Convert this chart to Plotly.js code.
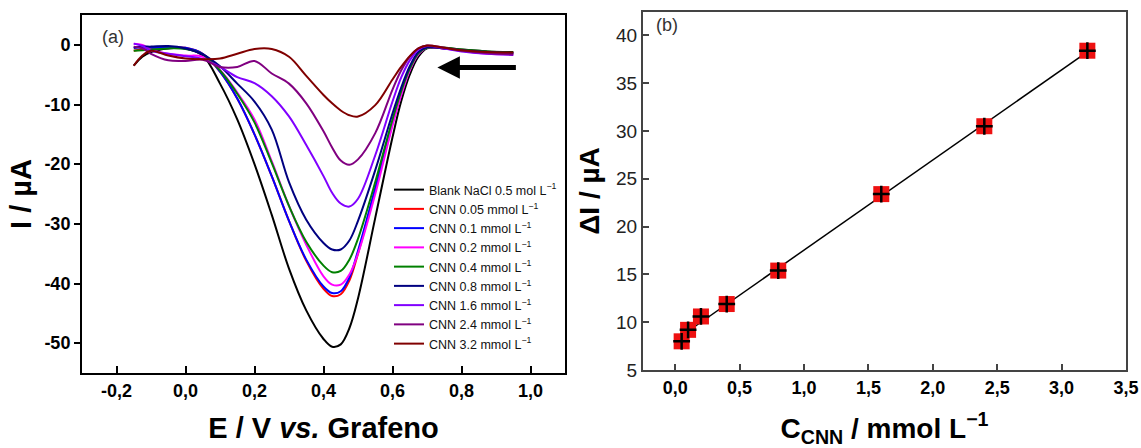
<!DOCTYPE html>
<html>
<head>
<meta charset="utf-8">
<script src="https://cdn.plot.ly/plotly-3.0.1.min.js"></script>
<style>html,body{margin:0;padding:0;background:#fff;}#chart{width:1141px;height:448px;}</style>
</head>
<body>
<div id="chart"></div>
<script>
// ---------- Panel (a): voltammograms ----------
const E = [-0.15,-0.125,-0.1,-0.05,0,0.05,0.1,0.15,0.2,0.25,0.3,0.35,0.4,0.425,0.45,0.475,0.5,0.55,0.6,0.625,0.65,0.675,0.7,0.75,0.8,0.875,0.95];

const iBlank = [-3.5,-2.0,-1.2,-0.6,-0.6,-1.8,-6.5,-12.5,-20,-28.5,-37.5,-44.5,-49.3,-50.6,-50.2,-47.5,-42.5,-29,-15.5,-9.5,-5,-2,-0.6,-0.5,-0.8,-1.1,-1.2];
const iC005 = [-1.0,-0.7,-0.5,-0.4,-0.5,-1.5,-4.5,-9,-15,-22,-29.5,-36.2,-40.9,-42.1,-41.8,-39.5,-35,-24.3,-13.2,-8.1,-4.1,-1.5,-0.5,-0.6,-0.9,-1.2,-1.4];
const iC01  = [-0.5,-0.4,-0.5,-0.4,-0.5,-1.5,-4.5,-9,-15,-22,-29.5,-36,-40.5,-41.6,-41.3,-39,-34.5,-24,-13,-8,-4,-1.5,-0.5,-0.6,-0.9,-1.2,-1.4];
const iC02  = [0.2,0,-0.8,-1.5,-1.8,-2.0,-4.2,-8,-12.5,-19.5,-27,-33.5,-38.8,-40.2,-40.2,-38.5,-35,-25,-13.5,-8.5,-4.3,-1.6,-0.5,-0.6,-1.0,-1.5,-1.6];
const iC04  = [-1.0,-0.9,-0.8,-0.6,-0.7,-1.6,-4.3,-8.2,-13,-19.8,-27,-33,-37,-38.1,-37.9,-36,-32.5,-23,-12.5,-7.8,-4,-1.4,-0.5,-0.5,-0.8,-1.1,-1.3];
const iC08  = [-0.5,-0.3,-0.3,-0.2,-0.6,-1.6,-3.6,-6.5,-9.5,-14.2,-23,-29.3,-33.2,-34.3,-34.3,-32.8,-29.5,-21,-11.5,-7.2,-3.6,-1.2,-0.4,-0.6,-0.9,-1.2,-1.4];
const iC16  = [0.2,-0.2,-1.0,-1.5,-1.9,-2.4,-3.7,-5.4,-6.4,-8.6,-12,-16.8,-22,-24.8,-26.6,-27.1,-25.8,-18.5,-9.5,-5.5,-2.6,-0.8,-0.2,-0.6,-1.1,-1.5,-1.7];
const iC24  = [-0.3,-0.6,-1.5,-2.6,-2.7,-2.5,-3.7,-3.7,-2.7,-4.8,-6.5,-9.8,-14.5,-17.2,-19.4,-20.1,-19.2,-14.8,-7.5,-4.3,-2,-0.6,-0.1,-0.5,-1.0,-1.4,-1.6];
const iC32  = [-3.5,-1.8,-1.0,-1.8,-2.3,-2.4,-2.3,-1.5,-0.7,-0.7,-2.0,-5.2,-8.4,-9.8,-11,-11.8,-12.0,-10.1,-5.8,-3.7,-1.9,-0.6,-0.1,-0.5,-0.9,-1.2,-1.3];

const curveNames = [
  "Blank NaCl 0.5 mol L<sup>−1</sup>",
  "CNN 0.05 mmol L<sup>−1</sup>",
  "CNN 0.1 mmol L<sup>−1</sup>",
  "CNN 0.2 mmol L<sup>−1</sup>",
  "CNN 0.4 mmol L<sup>−1</sup>",
  "CNN 0.8 mmol L<sup>−1</sup>",
  "CNN 1.6 mmol L<sup>−1</sup>",
  "CNN 2.4 mmol L<sup>−1</sup>",
  "CNN 3.2 mmol L<sup>−1</sup>"
];
const curveColors = ["#000000","#ff0000","#0000ff","#ff00ff","#008000","#000080","#8000ff","#800080","#800000"];
const curveData = [iBlank,iC005,iC01,iC02,iC04,iC08,iC16,iC24,iC32];

const xTickValsA = [-0.2,0,0.2,0.4,0.6,0.8,1.0];
const xTickTextA = ["-0,2","0,0","0,2","0,4","0,6","0,8","1,0"];
const yTickValsA = [0,-10,-20,-30,-40,-50];
const yTickTextA = ["0","-10","-20","-30","-40","-50"];

// ---------- Panel (b): calibration ----------
const conc = [0.05,0.1,0.2,0.4,0.8,1.6,2.4,3.2];
const deltaI = [8.0,9.2,10.6,11.9,15.4,23.4,30.5,38.4];
const xTickValsB = [0,0.5,1.0,1.5,2.0,2.5,3.0,3.5];
const xTickTextB = ["0,0","0,5","1,0","1,5","2,0","2,5","3,0","3,5"];
const yTickValsB = [5,10,15,20,25,30,35,40];

// least-squares fit of the calibration points
function linfit(x,y){
  const n=x.length; let sx=0,sy=0,sxx=0,sxy=0;
  for(let i=0;i<n;i++){sx+=x[i];sy+=y[i];sxx+=x[i]*x[i];sxy+=x[i]*y[i];}
  const m=(n*sxy-sx*sy)/(n*sxx-sx*sx); const b=(sy-m*sx)/n; return [m,b];
}
const [slope, icpt] = linfit(conc, deltaI);
const fitX = [conc[0], conc[conc.length-1]];
const fitY = fitX.map(v => slope*v + icpt);

const FONT = "Arial, 'Liberation Sans', sans-serif";

const traces = [];
curveData.forEach((arr,k)=>{
  traces.push({
    x:E, y:arr, type:"scatter", mode:"lines", name:curveNames[k],
    line:{color:curveColors[k], width:2, shape:"spline", smoothing:1},
    xaxis:"x", yaxis:"y", showlegend:true
  });
});
traces.push({x:fitX, y:fitY, type:"scatter", mode:"lines", line:{color:"#000",width:1.5},
  xaxis:"x2", yaxis:"y2", showlegend:false});
traces.push({x:conc, y:deltaI, type:"scatter", mode:"markers",
  marker:{symbol:"square", size:16, color:"#ee1111", line:{width:0}},
  xaxis:"x2", yaxis:"y2", showlegend:false});
traces.push({x:conc, y:deltaI, type:"scatter", mode:"markers",
  marker:{symbol:"cross-thin", size:12, color:"#000", line:{width:2.5, color:"#000"}},
  xaxis:"x2", yaxis:"y2", showlegend:false});

const W=1141, H=448;
const px = v => v/W, py = v => 1 - v/H;

const layout = {
  width:W, height:H,
  margin:{l:0,r:0,t:0,b:0},
  paper_bgcolor:"#fff", plot_bgcolor:"#fff",
  font:{family:FONT, color:"#000"},
  showlegend:true,
  legend:{x:px(389), y:py(175), xanchor:"left", yanchor:"top",
    font:{family:FONT, size:12.5, color:"#111"}, bgcolor:"rgba(0,0,0,0)", tracegroupgap:0},
  xaxis:{domain:[px(82),px(565)], range:[-0.3,1.1], anchor:"y",
    tickvals:xTickValsA, ticktext:xTickTextA, ticks:"inside", ticklen:7, tickwidth:2, tickcolor:"#000",
    showline:true, linecolor:"#000", linewidth:2, mirror:true, showgrid:false, zeroline:false,
    tickfont:{family:FONT, size:18, weight:"bold"},
    title:{text:"E / V <i>vs.</i> Grafeno", font:{family:FONT, size:29, weight:"bold"}, standoff:18}},
  yaxis:{domain:[py(373),py(15)], range:[-55,5], anchor:"x",
    tickvals:yTickValsA, ticktext:yTickTextA, ticks:"outside", ticklen:6, tickwidth:2, tickcolor:"#000",
    showline:true, linecolor:"#000", linewidth:2, mirror:true, showgrid:false, zeroline:false,
    tickfont:{family:FONT, size:18, weight:"bold"},
    title:{text:"I / µA", font:{family:FONT, size:29, weight:"bold"}, standoff:4}},
  xaxis2:{domain:[px(643),px(1126)], range:[-0.25,3.5], anchor:"y2",
    tickvals:xTickValsB, ticktext:xTickTextB, ticks:"inside", ticklen:6, tickwidth:1.5, tickcolor:"#444",
    showline:true, linecolor:"#444", linewidth:2, mirror:true, showgrid:false, zeroline:false,
    tickfont:{family:FONT, size:18, weight:"bold"},
    title:{text:"C<sub>CNN</sub> / mmol L<sup>−1</sup>", font:{family:FONT, size:28, weight:"bold"}, standoff:22}},
  yaxis2:{domain:[py(370),py(12)], range:[5,42.45], anchor:"x2",
    tickvals:yTickValsB, ticks:"inside", ticklen:6, tickwidth:1.5, tickcolor:"#444",
    showline:true, linecolor:"#444", linewidth:2, mirror:true, showgrid:false, zeroline:false,
    tickfont:{family:FONT, size:19, color:"#222"},
    title:{text:"ΔI / µA", font:{family:FONT, size:28, weight:"bold"}, standoff:8}},
  annotations:[
    {xref:"paper", yref:"paper", x:px(100), y:py(37), xanchor:"left", yanchor:"middle",
     text:"(a)", showarrow:false, font:{family:FONT, size:18, color:"#333"}},
    {xref:"paper", yref:"paper", x:px(654), y:py(25), xanchor:"left", yanchor:"middle",
     text:"(b)", showarrow:false, font:{family:FONT, size:18, color:"#333"}},
    {xref:"x", yref:"y", x:0.73, y:-3.8, axref:"x", ayref:"y", ax:0.962, ay:-3.8,
     text:"", showarrow:true, arrowhead:2, arrowsize:0.9, arrowwidth:5, arrowcolor:"#000"}
  ]
};

Plotly.newPlot("chart", traces, layout, {displayModeBar:false});
</script>
</body>
</html>
